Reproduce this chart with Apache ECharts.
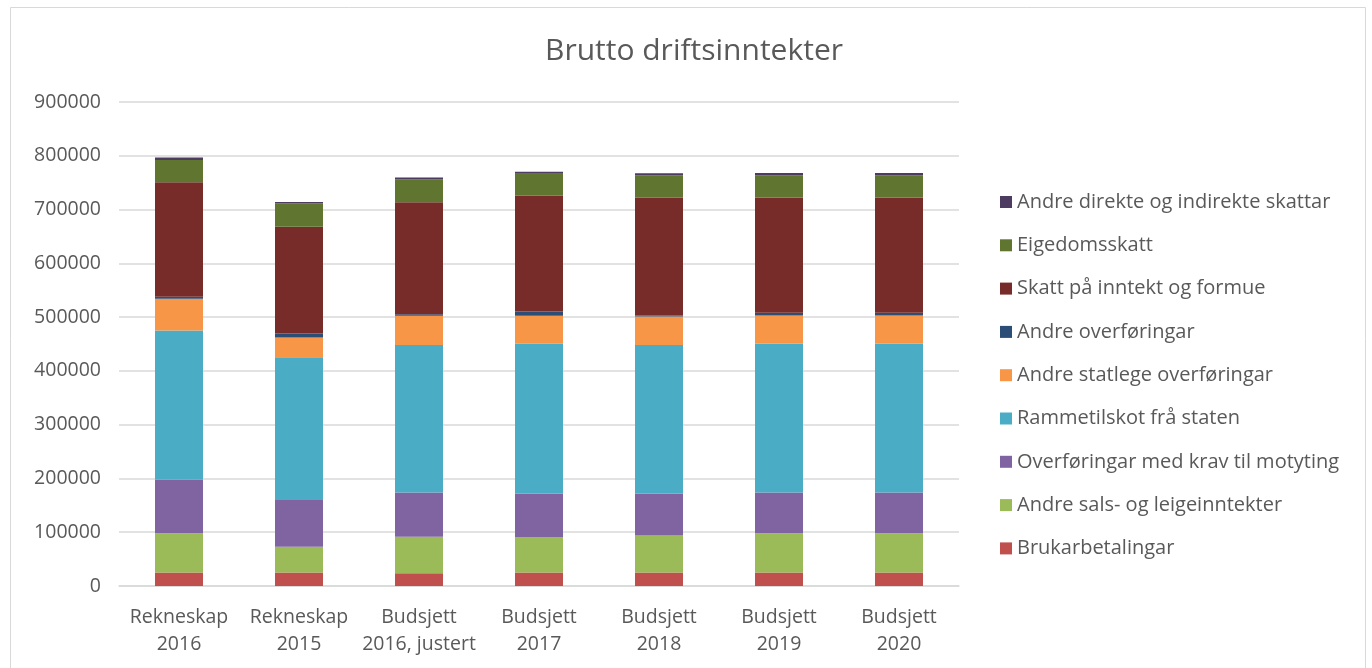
<!DOCTYPE html>
<html><head><meta charset="utf-8">
<script src="https://cdn.jsdelivr.net/npm/echarts@6/dist/echarts.min.js"></script>
<style>html,body{margin:0;padding:0;background:#fff;}#c{width:1372px;height:668px;}</style>
</head><body><div id="c"></div>
<script>
const categories = ["Rekneskap\n2016","Rekneskap\n2015","Budsjett\n2016, justert","Budsjett\n2017","Budsjett\n2018","Budsjett\n2019","Budsjett\n2020"];
const yTicks = [0,100000,200000,300000,400000,500000,600000,700000,800000,900000];
const seriesNames = ["Brukarbetalingar","Andre sals- og leigeinntekter","Overføringar med krav til motyting","Rammetilskot frå staten","Andre statlege overføringar","Andre overføringar","Skatt på inntekt og formue","Eigedomsskatt","Andre direkte og indirekte skattar"];
const brukarbetalingar = [25000,25000,23500,25000,25000,25000,25000];
const salsLeige = [73000,48000,68000,66000,69000,73000,73000];
const overfKrav = [100000,87000,82500,81000,78000,76000,76000];
const rammetilskot = [277000,265500,274000,278500,276000,277000,277000];
const statlegeOverf = [59000,36500,54500,52000,53000,52000,52000];
const andreOverf = [4000,7500,3000,8000,2000,5000,5000];
const skattInntekt = [213000,198500,208000,215000,219000,214500,214500];
const eigedomsskatt = [41000,43500,43000,41000,41500,41500,41500];
const andreSkattar = [5000,2500,3000,4000,4000,4000,4000];
const colors = ["#C0504D","#9BBB59","#8064A2","#4BACC6","#F79646","#2C4D75","#772C2A","#5F7530","#4D3B62"];
const values = [brukarbetalingar,salsLeige,overfKrav,rammetilskot,statlegeOverf,andreOverf,skattInntekt,eigedomsskatt,andreSkattar];

const chart = echarts.init(document.getElementById('c'));
const font = "'Open Sans', 'Liberation Sans', sans-serif";
chart.setOption({
  animation:false,
  backgroundColor:'#fff',
  color: colors,
  title:{text:'Brutto driftsinntekter',left:689,top:31,textAlign:'center',
    textStyle:{fontFamily:font,fontSize:30,fontWeight:'normal',color:'#595959'}},
  graphic:[{type:'rect',shape:{x:10.5,y:7.5,width:1355,height:680},style:{fill:'none',stroke:'#d9d9d9',lineWidth:1}}],
  legend:{orient:'vertical',left:995,top:187,itemWidth:12,itemHeight:12,itemGap:23.3,icon:'rect',
    data: seriesNames.slice().reverse(),
    textStyle:{fontFamily:font,fontSize:20,color:'#595959',lineHeight:20}},
  grid:{left:119,right:1372-959,top:102,bottom:668-586,containLabel:false},
  xAxis:{type:'category',data:categories,
    axisLine:{lineStyle:{color:'#d9d9d9',width:1.5}},axisTick:{show:false},
    axisLabel:{interval:0,fontFamily:font,fontSize:19.5,color:'#595959',margin:18,lineHeight:27}},
  yAxis:{type:'value',min:yTicks[0],max:yTicks[yTicks.length-1],interval:100000,
    axisLine:{show:false},axisTick:{show:false},
    axisLabel:{fontFamily:font,fontSize:19.5,color:'#595959',margin:18,formatter:v=>String(v)},
    splitLine:{lineStyle:{color:'#d9d9d9',width:1.5}}},
  series: seriesNames.map((n,i)=>({name:n,type:'bar',stack:'total',barWidth:'40%',data:values[i],
    itemStyle:{color:colors[i]}}))
});
</script></body></html>
